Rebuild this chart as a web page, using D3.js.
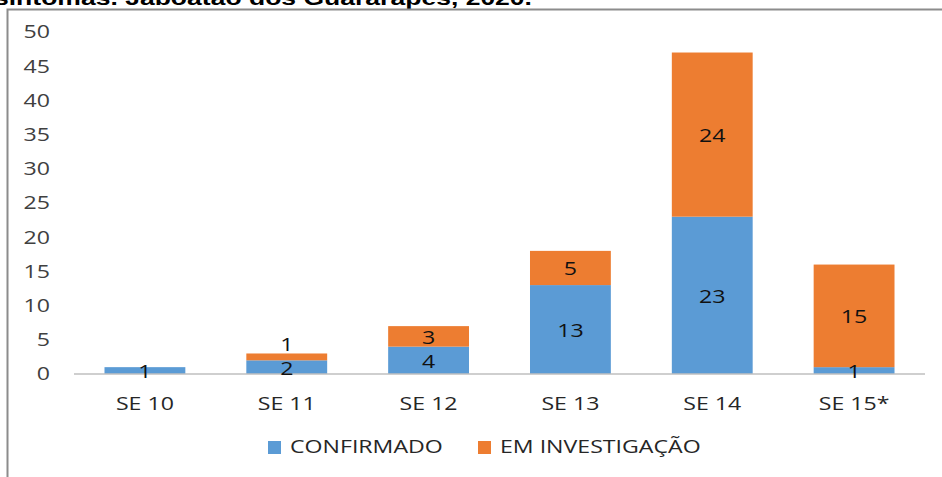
<!DOCTYPE html>
<html>
<head>
<meta charset="utf-8">
<script src="https://cdn.jsdelivr.net/npm/d3@7"></script>
<style>
  body { margin: 0; background: #fff; }
  svg { display: block; }
</style>
</head>
<body>
<div id="chart"></div>
<script>
// chart data
var categories = ["SE 10", "SE 11", "SE 12", "SE 13", "SE 14", "SE 15*"];
var confirmado = [1, 2, 4, 13, 23, 1];
var investigacao = [0, 1, 3, 5, 24, 15];
var yTicks = [0, 5, 10, 15, 20, 25, 30, 35, 40, 45, 50];
var seriesNames = ["CONFIRMADO", "EM INVESTIGAÇÃO"];
var colors = ["#5B9BD5", "#ED7D31"];

var FONT = "'Open Sans', 'DejaVu Sans', sans-serif";
var STRETCH = 1.25;   // the source image text is horizontally stretched

function init() {
    var w = 942, h = 477;

    var svg = d3.select("#chart")
                .append("svg")
                .attr("width", w)
                .attr("height", h);

    // helper: stretched text placed at (x, y)
    function stretchedText(sel, x, y) {
        return sel.attr("transform", function(d, i) {
            return "translate(" + x(d, i) + "," + y(d, i) + ") scale(" + STRETCH + ",1)";
        })
        .style("font-family", FONT);
    }

    // title cut off at the top of the picture
    svg.append("text")
       .attr("x", -6)
       .attr("y", 5)
       .attr("textLength", 538)
       .attr("lengthAdjust", "spacingAndGlyphs")
       .style("font-family", "'Liberation Sans', Arial, sans-serif")
       .style("font-weight", "bold")
       .style("font-size", "21px")
       .attr("fill", "#000")
       .text("sintomas. Jaboatão dos Guararapes, 2020.");

    // chart frame
    svg.append("path")
       .attr("d", "M7.5," + h + "V9.5H" + w)
       .attr("fill", "none")
       .attr("stroke", "#8c8c8c")
       .attr("stroke-width", 2);

    var xScale = d3.scaleBand()
                   .domain(categories)
                   .range([74, 925])
                   .paddingInner(0.43)
                   .paddingOuter(0.215);

    var yScale = d3.scaleLinear()
                   .domain([0, 50])
                   .range([374, 32]);

    // stack the two series
    var rows = categories.map(function(c, i) {
        return { cat: c, CONFIRMADO: confirmado[i], "EM INVESTIGAÇÃO": investigacao[i] };
    });
    var stacked = d3.stack().keys(seriesNames)(rows);

    // y axis labels
    stretchedText(
        svg.selectAll(".ytick")
           .data(yTicks)
           .enter()
           .append("text")
           .attr("class", "ytick"),
        function() { return 50; },
        function(d) { return yScale(d); })
       .attr("dy", "0.35em")
       .attr("text-anchor", "end")
       .style("font-size", "18.5px")
       .attr("fill", "#404040")
       .text(function(d) { return d; });

    // bars
    var groups = svg.selectAll(".series")
       .data(stacked)
       .enter()
       .append("g")
       .attr("fill", function(d, i) { return colors[i]; });

    groups.selectAll("rect")
       .data(function(d) { return d; })
       .enter()
       .append("rect")
       .attr("x", function(d) { return xScale(d.data.cat); })
       .attr("y", function(d) { return yScale(d[1]); })
       .attr("width", xScale.bandwidth())
       .attr("height", function(d) { return yScale(d[0]) - yScale(d[1]); });

    // baseline
    svg.append("line")
       .attr("x1", 74).attr("x2", 925)
       .attr("y1", yScale(0)).attr("y2", yScale(0))
       .attr("stroke", "#bfbfbf")
       .attr("stroke-width", 1.5);

    // data labels
    stacked.forEach(function(s, si) {
        stretchedText(
            svg.selectAll(".lbl" + si)
               .data(s.filter(function(d) { return d[1] - d[0] > 0; }))
               .enter()
               .append("text"),
            function(d) { return xScale(d.data.cat) + xScale.bandwidth() / 2; },
            function(d) {
                var top = yScale(d[1]), bot = yScale(d[0]);
                if (si === 1 && bot - top < 10) return top - 9;   // small top segment: label above
                return (top + bot) / 2 + 1;
            })
           .attr("dy", "0.35em")
           .attr("text-anchor", "middle")
           .style("font-size", "18.5px")
           .attr("fill", "#111")
           .text(function(d) { return d[1] - d[0]; });
    });

    // x labels
    stretchedText(
        svg.selectAll(".xlbl")
           .data(categories)
           .enter()
           .append("text"),
        function(d) { return xScale(d) + xScale.bandwidth() / 2; },
        function() { return 404; })
       .attr("dy", "0.35em")
       .attr("text-anchor", "middle")
       .style("font-size", "18.5px")
       .attr("fill", "#262626")
       .text(function(d) { return d; });

    // legend
    var legendX = [268, 478];
    var legend = svg.selectAll(".legend")
       .data(seriesNames)
       .enter()
       .append("g")
       .attr("transform", function(d, i) { return "translate(" + legendX[i] + ",447)"; });

    legend.append("rect")
       .attr("x", 0).attr("y", -6)
       .attr("width", 13).attr("height", 13)
       .attr("fill", function(d, i) { return colors[i]; });

    stretchedText(
        legend.append("text"),
        function() { return 22; },
        function() { return 0; })
       .attr("dy", "0.35em")
       .style("font-size", "18.5px")
       .attr("fill", "#262626")
       .text(function(d) { return d; });
}

window.onload = init;
</script>
</body>
</html>
